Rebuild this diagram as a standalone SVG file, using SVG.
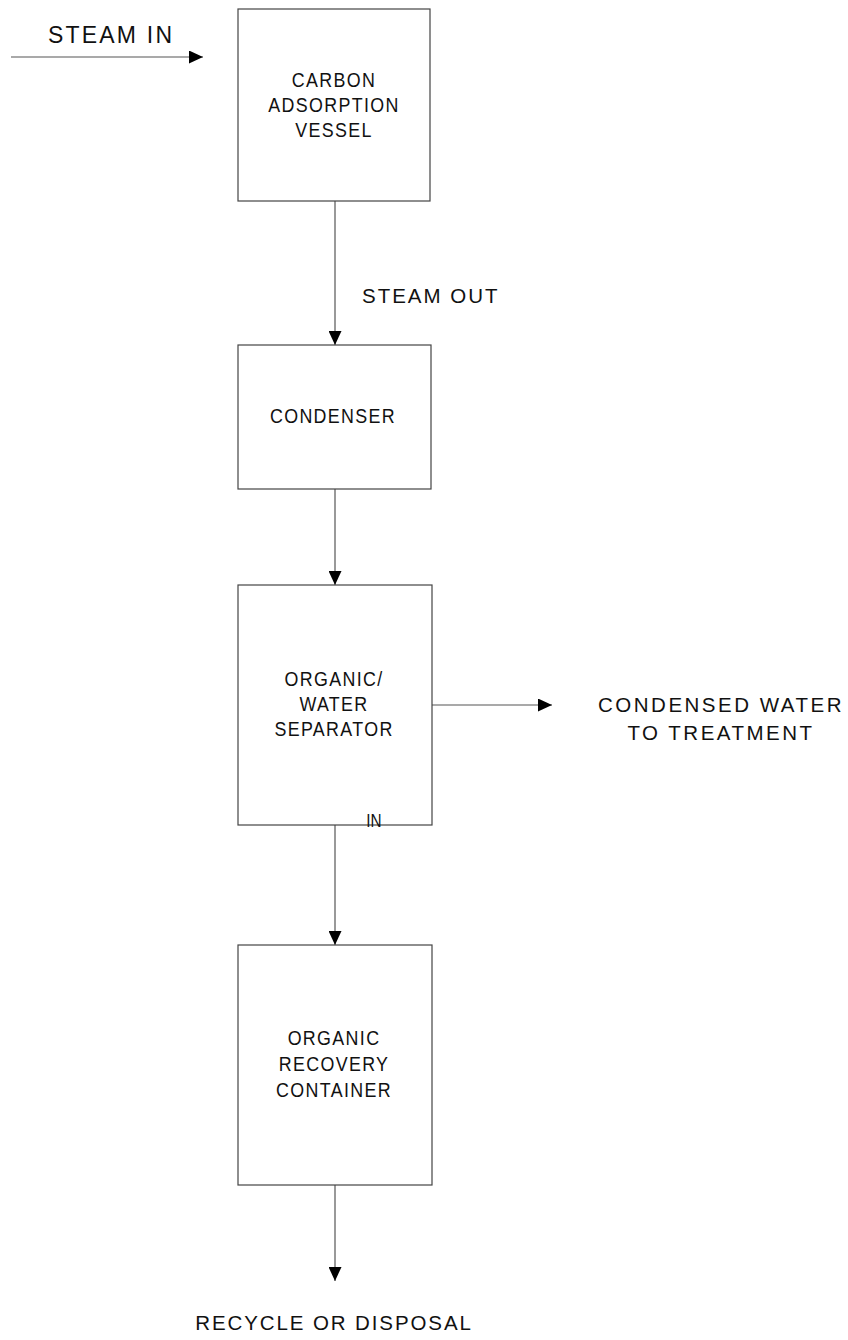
<svg xmlns="http://www.w3.org/2000/svg" width="848" height="1340" viewBox="0 0 848 1340">
<style>
.box{fill:#fff;stroke:#444;stroke-width:1.2}
.conn{stroke:#555;stroke-width:1.2;fill:none}
.lbl{font-family:"Liberation Sans",Arial,sans-serif;font-size:21px;letter-spacing:1.6px;fill:#111;text-anchor:middle}
.out{font-family:"Liberation Sans",Arial,sans-serif;font-size:20.5px;letter-spacing:2.2px;fill:#111}
</style>
<defs>
<marker id="ah" markerWidth="14" markerHeight="13" refX="14" refY="6.5" orient="auto" markerUnits="userSpaceOnUse">
<path d="M0,0 L14,6.5 L0,13 Z" fill="#000"/>
</marker>
</defs>
<rect width="848" height="1340" fill="#fff"/>
<g id="connectors">
<line class="conn" x1="11" y1="57" x2="203" y2="57" marker-end="url(#ah)"/>
<line class="conn" x1="335" y1="201" x2="335" y2="345" marker-end="url(#ah)"/>
<line class="conn" x1="335" y1="489" x2="335" y2="585" marker-end="url(#ah)"/>
<line class="conn" x1="432" y1="705" x2="552" y2="705" marker-end="url(#ah)"/>
<line class="conn" x1="335" y1="825" x2="335" y2="945" marker-end="url(#ah)"/>
<line class="conn" x1="335" y1="1185" x2="335" y2="1281" marker-end="url(#ah)"/>
</g>
<g id="labels">
<text class="out" x="48" y="43" style="font-size:23px;letter-spacing:2.2px">STEAM IN</text>
<text class="out" x="362" y="303" style="letter-spacing:2px">STEAM OUT</text>
<text class="out" x="721" y="712" text-anchor="middle" style="letter-spacing:2.5px">CONDENSED WATER</text>
<text class="out" x="721" y="740" text-anchor="middle" style="letter-spacing:2.5px">TO TREATMENT</text>
<text class="out" x="334" y="1330" text-anchor="middle" style="letter-spacing:1.9px">RECYCLE OR DISPOSAL</text>
</g>
<g id="carbon-vessel">
<rect class="box" x="238" y="9" width="192" height="192"/>
<text class="lbl" transform="translate(334,87) scale(0.85,1)">CARBON</text>
<text class="lbl" transform="translate(334,112) scale(0.85,1)">ADSORPTION</text>
<text class="lbl" transform="translate(334,137) scale(0.85,1)">VESSEL</text>
</g>
<g id="condenser">
<rect class="box" x="238" y="345" width="193" height="144"/>
<text class="lbl" transform="translate(333,423) scale(0.85,1)">CONDENSER</text>
</g>
<g id="separator">
<rect class="box" x="238" y="585" width="194" height="240"/>
<text class="lbl" transform="translate(334,686) scale(0.85,1)">ORGANIC/</text>
<text class="lbl" transform="translate(334,711) scale(0.85,1)">WATER</text>
<text class="lbl" transform="translate(334,736) scale(0.85,1)">SEPARATOR</text>
<text class="lbl" transform="translate(374,827) scale(0.85,1)" style="font-size:18px;letter-spacing:0">IN</text>
</g>
<g id="recovery-container">
<rect class="box" x="238" y="945" width="194" height="240"/>
<text class="lbl" transform="translate(334,1045) scale(0.85,1)">ORGANIC</text>
<text class="lbl" transform="translate(334,1071) scale(0.85,1)">RECOVERY</text>
<text class="lbl" transform="translate(334,1097) scale(0.85,1)">CONTAINER</text>
</g>
</svg>
